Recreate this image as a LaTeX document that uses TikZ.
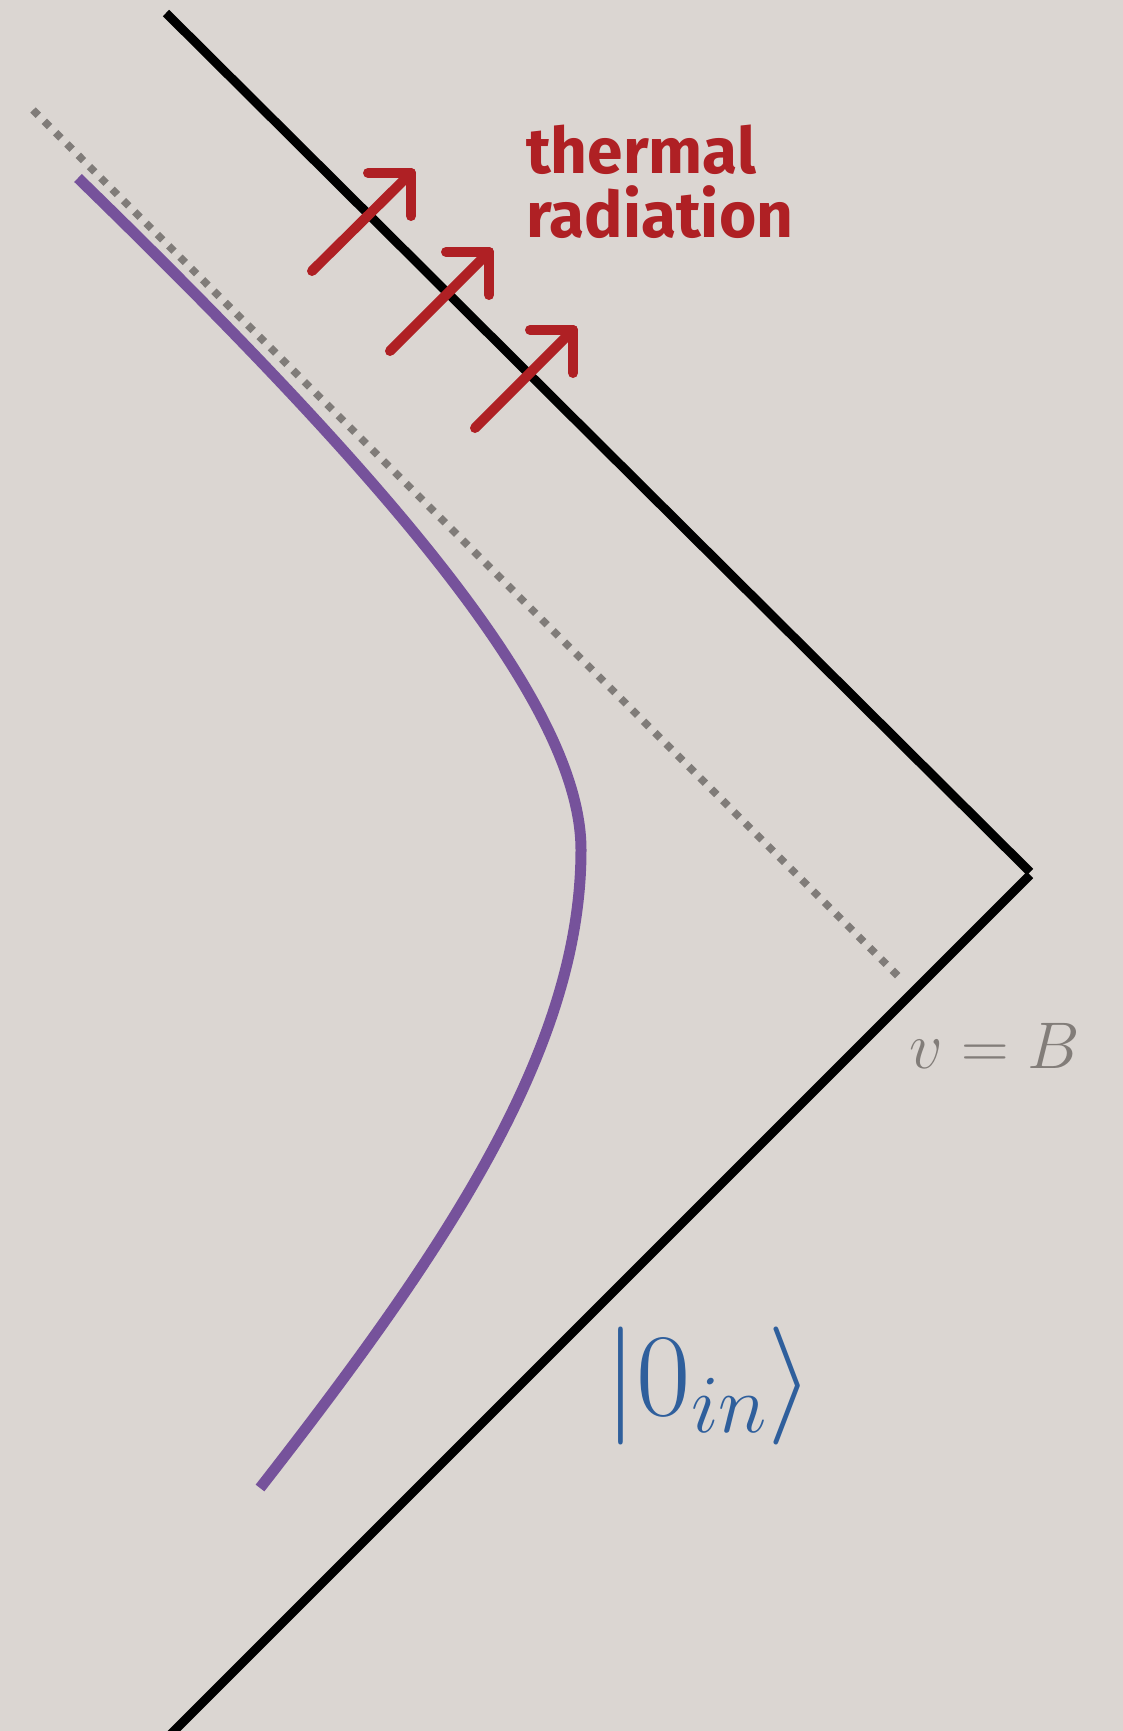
\RequirePackage{fix-cm}
\documentclass[tikz,border=0pt]{standalone}
\usepackage{fontspec}
\newfontfamily\radfont{Fira Sans}
\definecolor{bgcol}{RGB}{219,214,210}
\definecolor{dotgray}{RGB}{128,124,121}
\definecolor{wlpurple}{RGB}{118,82,155}
\definecolor{radred}{RGB}{175,32,36}
\definecolor{ketblue}{RGB}{47,95,156}
\definecolor{vgray}{RGB}{130,125,121}
\begin{document}
\begin{tikzpicture}[x=1pt,y=-1pt,
  horizon/.style={line width=9pt, draw=black},
  vline/.style={line width=7.5pt, draw=dotgray, dash pattern=on 7.5pt off 8.5pt},
  worldline/.style={line width=11pt, draw=wlpurple},
  ray/.style={line width=10pt, draw=radred, line cap=round, line join=round}]
\fill[bgcol] (0,0) rectangle (1123,1731);
\useasboundingbox (0,0) rectangle (1123,1731);
% horizons
\coordinate (top) at (166,13);
\coordinate (apex) at (1030,872);
\coordinate (apex2) at (1030,875);
\coordinate (bot) at (170,1735);
\draw[horizon] (top) -- (apex);
\draw[horizon] (apex2) -- (bot);
% v = B line
\coordinate (vs) at (33,110);
\coordinate (ve) at (903,981);
\draw[vline] (vs) -- (ve);
% worldline
\coordinate (ws) at (78,178);
\coordinate (wm) at (581,850);
\coordinate (we) at (260,1488);
\draw[worldline] (ws) .. controls (378,470) and (581,700) .. (wm)
  .. controls (581,1050) and (444.5,1251.3) .. (we);
% arrows
\foreach \i/\tx/\ty/\px/\py in {1/312/271/411/173, 2/390/351/489/252, 3/475/428/573/330}{
  \coordinate (t\i) at (\tx,\ty);
  \coordinate (p\i) at (\px,\py);
  \draw[ray] (t\i) -- (p\i);
  \draw[ray] ([xshift=-43pt]p\i) -- (p\i) -- ([yshift=-43pt]p\i);
}
% labels
\node[anchor=base west, inner sep=0, text=radred, align=left,
  font=\radfont\bfseries\fontsize{64}{64}\selectfont] (therm) at (526,237) {thermal\\radiation};
\node[anchor=base west, inner sep=0, text=vgray,
  font=\fontsize{66}{66}\selectfont] (vB) at (909,1068) {$v=B$};
\node[anchor=base west, inner sep=0, text=ketblue,
  font=\fontsize{118}{118}\selectfont] (ket) at (604,1415) {$|0_{in}\rangle$};
\end{tikzpicture}
\end{document}
